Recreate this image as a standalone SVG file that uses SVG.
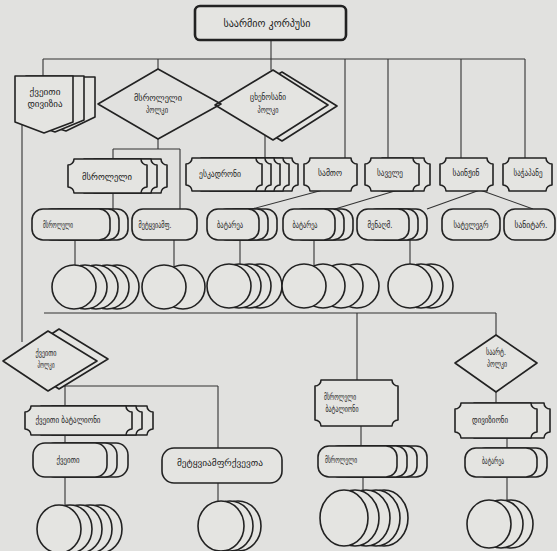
<svg xmlns="http://www.w3.org/2000/svg" width="557" height="551" viewBox="0 0 557 551">
<style>
.bg{fill:#e1e1df}
.n{fill:#e4e4e1;stroke:#222;stroke-width:1.6;stroke-linejoin:round}
.nf{fill:none;stroke:#222;stroke-width:1.6;stroke-linejoin:round}
.c{fill:none;stroke:#333;stroke-width:1.1}
text{font-family:"DejaVu Sans","Noto Sans",sans-serif;font-size:8.5px;fill:#222;text-anchor:middle;dominant-baseline:central}
.big{font-size:10px}
.s{font-size:8.5px}
</style>
<rect class="bg" x="0" y="0" width="557" height="551"/>
<g id="connectors">
<path class="c" d="M271,40V70M43,59H525M43,59V76M158,59V69M345,59V158M388,59V158M461,59V158M525,59V158"/>
<path class="c" d="M158,139V149M113,149H180M113,149V159M180,149V209M265,134V158M113,193V209"/>
<path class="c" d="M323,190L252,209M398,190L335,209M480,190L427,209M480,190L533,209"/>
<path class="c" d="M75,240V266M174,240V266M240,240V265M314,240V265M410,240V265"/>
<path class="c" d="M22,125V342M44,313H496M357,313V380M496,313V335"/>
<path class="c" d="M64,386H218M65,386V406M218,386V448M65,435V443M65,477V506M218,483V502M361,426V446M363,477V491M496,392V403M507,438V448M507,477V501"/>
</g>
<g id="n-korpusi">
<rect x="195" y="6" width="151" height="34" rx="5" fill="#e4e4e1" stroke="#222" stroke-width="2.6"/>
<text class="big" x="267" y="23" textLength="87" lengthAdjust="spacingAndGlyphs">საარმიო კორპუსი</text>
</g>
<g id="n-kveiti-divizia">
<path class="n" d="M37,77H95V117L66,131L37,122Z"/>
<path class="n" d="M26,76H84V120L55,132L26,122Z"/>
<path class="n" d="M15,76H73V122L44,133L15,122Z"/>
<text x="45" y="92" textLength="31" lengthAdjust="spacingAndGlyphs">ქვეითი</text>
<text x="45" y="104" textLength="35" lengthAdjust="spacingAndGlyphs">დივიზია</text>
</g>
<g id="n-tskhenosani-polki">
<polygon class="n" points="282,72 337,106 282,141 224,106"/>
<polygon class="n" points="273,70 328,105 273,140 215,105"/>
<text x="268" y="97" textLength="36" lengthAdjust="spacingAndGlyphs">ცხენოსანი</text>
<text x="268" y="110" textLength="21" lengthAdjust="spacingAndGlyphs">პოლკი</text>
</g>
<g id="n-msroleli-polki">
<polygon class="nf" points="158,69 221,104 158,139 98,104"/>
<text x="158" y="98" textLength="48" lengthAdjust="spacingAndGlyphs">მსროლელი</text>
<text x="157" y="110" textLength="22" lengthAdjust="spacingAndGlyphs">პოლკი</text>
</g>
<g id="n-msroleli-bat">
<path class="n" d="M94,159H161A6,6 0 0 0 167,165V187A6,6 0 0 0 161,193H94A6,6 0 0 0 88,187V165A6,6 0 0 0 94,159Z"/>
<path class="n" d="M84,159H151A6,6 0 0 0 157,165V187A6,6 0 0 0 151,193H84A6,6 0 0 0 78,187V165A6,6 0 0 0 84,159Z"/>
<path class="n" d="M74,159H141A6,6 0 0 0 147,165V187A6,6 0 0 0 141,193H74A6,6 0 0 0 68,187V165A6,6 0 0 0 74,159Z"/>
<text x="107" y="176" style="font-size:9.5px" textLength="50" lengthAdjust="spacingAndGlyphs">მსროლელი</text>
</g>
<g id="n-eskadroni">
<path class="n" d="M228,158H292A6,6 0 0 0 298,164V185A6,6 0 0 0 292,191H228A6,6 0 0 0 222,185V164A6,6 0 0 0 228,158Z"/>
<path class="n" d="M219,158H283A6,6 0 0 0 289,164V185A6,6 0 0 0 283,191H219A6,6 0 0 0 213,185V164A6,6 0 0 0 219,158Z"/>
<path class="n" d="M210,158H274A6,6 0 0 0 280,164V185A6,6 0 0 0 274,191H210A6,6 0 0 0 204,185V164A6,6 0 0 0 210,158Z"/>
<path class="n" d="M201,158H265A6,6 0 0 0 271,164V185A6,6 0 0 0 265,191H201A6,6 0 0 0 195,185V164A6,6 0 0 0 201,158Z"/>
<path class="n" d="M192,158H256A6,6 0 0 0 262,164V185A6,6 0 0 0 256,191H192A6,6 0 0 0 186,185V164A6,6 0 0 0 192,158Z"/>
<text x="220" y="174" textLength="42" lengthAdjust="spacingAndGlyphs">ესკადრონი</text>
</g>
<g id="n-samto">
<path class="n" d="M310,158H351A6,6 0 0 0 357,164V185A6,6 0 0 0 351,191H310A6,6 0 0 0 304,185V164A6,6 0 0 0 310,158Z"/>
<text x="330" y="173" textLength="24" lengthAdjust="spacingAndGlyphs">სამთო</text>
</g>
<g id="n-savele">
<path class="n" d="M382,158H424A6,6 0 0 0 430,164V185A6,6 0 0 0 424,191H382A6,6 0 0 0 376,185V164A6,6 0 0 0 382,158Z"/>
<path class="n" d="M371,158H413A6,6 0 0 0 419,164V185A6,6 0 0 0 413,191H371A6,6 0 0 0 365,185V164A6,6 0 0 0 371,158Z"/>
<text x="390" y="173" textLength="26" lengthAdjust="spacingAndGlyphs">საველე</text>
</g>
<g id="n-sainzhin">
<path class="n" d="M446,158H487A6,6 0 0 0 493,164V185A6,6 0 0 0 487,191H446A6,6 0 0 0 440,185V164A6,6 0 0 0 446,158Z"/>
<text x="466" y="173" textLength="27" lengthAdjust="spacingAndGlyphs">საინჟინ</text>
</g>
<g id="n-sachapane">
<path class="n" d="M509,158H546A6,6 0 0 0 552,164V185A6,6 0 0 0 546,191H509A6,6 0 0 0 503,185V164A6,6 0 0 0 509,158Z"/>
<text x="528" y="173" textLength="29" lengthAdjust="spacingAndGlyphs">საჭაპანე</text>
</g>
<g id="n-p-msroleli">
<rect class="n" x="50" y="209" width="78" height="31" rx="11"/>
<rect class="n" x="41" y="209" width="78" height="31" rx="11"/>
<rect class="n" x="32" y="209" width="78" height="31" rx="11"/>
<text class="s" x="58" y="225" textLength="30" lengthAdjust="spacingAndGlyphs">მსროლელი</text>
</g>
<g id="n-p-metkviamf">
<rect class="n" x="132" y="209" width="65" height="31" rx="11"/>
<text class="s" x="155" y="225" textLength="33" lengthAdjust="spacingAndGlyphs">მეტყვიამფ.</text>
</g>
<g id="n-p-batarea1">
<rect class="n" x="225" y="209" width="52" height="31" rx="11"/>
<rect class="n" x="216" y="209" width="52" height="31" rx="11"/>
<rect class="n" x="207" y="209" width="52" height="31" rx="11"/>
<text class="s" x="230" y="225" textLength="26" lengthAdjust="spacingAndGlyphs">ბატარეა</text>
</g>
<g id="n-p-batarea2">
<rect class="n" x="301" y="209" width="52" height="31" rx="11"/>
<rect class="n" x="292" y="209" width="52" height="31" rx="11"/>
<rect class="n" x="283" y="209" width="52" height="31" rx="11"/>
<text class="s" x="305" y="225" textLength="25" lengthAdjust="spacingAndGlyphs">ბატარეა</text>
</g>
<g id="n-p-menaghm">
<rect class="n" x="375" y="209" width="52" height="31" rx="11"/>
<rect class="n" x="366" y="209" width="52" height="31" rx="11"/>
<rect class="n" x="357" y="209" width="52" height="31" rx="11"/>
<text class="s" x="380" y="225" textLength="25" lengthAdjust="spacingAndGlyphs">მენაღმ.</text>
</g>
<g id="n-p-satelegr">
<rect class="n" x="442" y="209" width="58" height="31" rx="11"/>
<text class="s" x="471" y="225" textLength="35" lengthAdjust="spacingAndGlyphs">სატელეგრ</text>
</g>
<g id="n-p-sanitar">
<rect class="n" x="504" y="209" width="51" height="31" rx="11"/>
<text class="s" x="531" y="225" textLength="33" lengthAdjust="spacingAndGlyphs">სანიტარ.</text>
</g>
<g id="n-c1">
<circle class="n" cx="117" cy="287" r="22"/><circle class="n" cx="107" cy="287" r="22"/><circle class="n" cx="96" cy="287" r="22"/><circle class="n" cx="85" cy="287" r="22"/><circle class="n" cx="74" cy="287" r="22"/>
</g>
<g id="n-c2">
<circle class="n" cx="183" cy="287" r="22"/><circle class="n" cx="164" cy="287" r="22"/>
</g>
<g id="n-c3">
<circle class="n" cx="260" cy="286" r="22"/><circle class="n" cx="249" cy="286" r="22"/><circle class="n" cx="239" cy="286" r="22"/><circle class="n" cx="229" cy="286" r="22"/>
</g>
<g id="n-c4">
<circle class="n" cx="357" cy="286" r="22"/><circle class="n" cx="341" cy="286" r="22"/><circle class="n" cx="323" cy="286" r="22"/><circle class="n" cx="304" cy="286" r="22"/>
</g>
<g id="n-c5">
<circle class="n" cx="431" cy="286" r="22"/><circle class="n" cx="421" cy="286" r="22"/><circle class="n" cx="410" cy="286" r="22"/>
</g>
<g id="n-kveiti-polki">
<polygon class="n" points="59,329 108,359 59,389 14,359"/>
<polygon class="n" points="48,331 97,361 48,391 3,361"/>
<text x="46" y="353" textLength="21" lengthAdjust="spacingAndGlyphs">ქვეითი</text>
<text x="46" y="365" textLength="17" lengthAdjust="spacingAndGlyphs">პოლკი</text>
</g>
<g id="n-sart-polki">
<polygon class="n" points="496,335 537,363 496,392 455,363"/>
<text x="496" y="352" textLength="20" lengthAdjust="spacingAndGlyphs">საარტ.</text>
<text x="497" y="364" textLength="20" lengthAdjust="spacingAndGlyphs">პოლკი</text>
</g>
<g id="n-msroleli-batalioni">
<path class="n" d="M321,380H392A6,6 0 0 0 398,386V420A6,6 0 0 0 392,426H321A6,6 0 0 0 315,420V386A6,6 0 0 0 321,380Z"/>
<text x="340" y="397" textLength="32" lengthAdjust="spacingAndGlyphs">მსროლელი</text>
<text x="342" y="409" textLength="33" lengthAdjust="spacingAndGlyphs">ბატალიონი</text>
</g>
<g id="n-kveiti-batalioni">
<path class="n" d="M52,406H147A6,6 0 0 0 153,412V429A6,6 0 0 0 147,435H52A6,6 0 0 0 46,429V412A6,6 0 0 0 52,406Z"/>
<path class="n" d="M41,406H136A6,6 0 0 0 142,412V429A6,6 0 0 0 136,435H41A6,6 0 0 0 35,429V412A6,6 0 0 0 41,406Z"/>
<path class="n" d="M31,406H126A6,6 0 0 0 132,412V429A6,6 0 0 0 126,435H31A6,6 0 0 0 25,429V412A6,6 0 0 0 31,406Z"/>
<text x="68" y="420" textLength="65" lengthAdjust="spacingAndGlyphs">ქვეითი ბატალიონი</text>
</g>
<g id="n-divizioni">
<path class="n" d="M474,403H544A6,6 0 0 0 550,409V432A6,6 0 0 0 544,438H474A6,6 0 0 0 468,432V409A6,6 0 0 0 474,403Z"/>
<path class="n" d="M461,403H531A6,6 0 0 0 537,409V432A6,6 0 0 0 531,438H461A6,6 0 0 0 455,432V409A6,6 0 0 0 461,403Z"/>
<text x="490" y="420" textLength="36" lengthAdjust="spacingAndGlyphs">დივიზიონი</text>
</g>
<g id="n-p-kveiti">
<rect class="n" x="54" y="443" width="74" height="34" rx="12"/>
<rect class="n" x="43" y="443" width="74" height="34" rx="12"/>
<rect class="n" x="33" y="443" width="74" height="34" rx="12"/>
<text x="68" y="460" textLength="23" lengthAdjust="spacingAndGlyphs">ქვეითი</text>
</g>
<g id="n-p-metkviamfrkvevta">
<rect class="n" x="162" y="448" width="120" height="35" rx="12"/>
<text x="220" y="463" textLength="86" lengthAdjust="spacingAndGlyphs">მეტყვიამფრქვევთა</text>
</g>
<g id="n-p-msroleli2">
<rect class="n" x="348" y="446" width="79" height="31" rx="11"/>
<rect class="n" x="338" y="446" width="79" height="31" rx="11"/>
<rect class="n" x="328" y="446" width="79" height="31" rx="11"/>
<rect class="n" x="318" y="446" width="79" height="31" rx="11"/>
<text x="341" y="460" textLength="32" lengthAdjust="spacingAndGlyphs">მსროლელი</text>
</g>
<g id="n-p-batarea3">
<rect class="n" x="475" y="448" width="72" height="29" rx="11"/>
<rect class="n" x="465" y="448" width="72" height="29" rx="11"/>
<text x="493" y="461" textLength="22" lengthAdjust="spacingAndGlyphs">ბატარეა</text>
</g>
<g id="n-c6">
<ellipse class="n" cx="100" cy="529" rx="22" ry="24"/><ellipse class="n" cx="90" cy="529" rx="22" ry="24"/><ellipse class="n" cx="80" cy="529" rx="22" ry="24"/><ellipse class="n" cx="70" cy="529" rx="22" ry="24"/><ellipse class="n" cx="59" cy="529" rx="22" ry="24"/>
</g>
<g id="n-c7">
<ellipse class="n" cx="238" cy="526" rx="23" ry="25"/><ellipse class="n" cx="230" cy="526" rx="23" ry="25"/><ellipse class="n" cx="221" cy="526" rx="23" ry="25"/>
</g>
<g id="n-c8">
<ellipse class="n" cx="384" cy="518" rx="24" ry="28"/><ellipse class="n" cx="376" cy="518" rx="24" ry="28"/><ellipse class="n" cx="366" cy="518" rx="24" ry="28"/><ellipse class="n" cx="355" cy="518" rx="24" ry="28"/><ellipse class="n" cx="344" cy="518" rx="24" ry="28"/>
</g>
<g id="n-c9">
<ellipse class="n" cx="511" cy="524" rx="22" ry="24"/><ellipse class="n" cx="501" cy="524" rx="22" ry="24"/><ellipse class="n" cx="489" cy="524" rx="22" ry="24"/>
</g>
</svg>
